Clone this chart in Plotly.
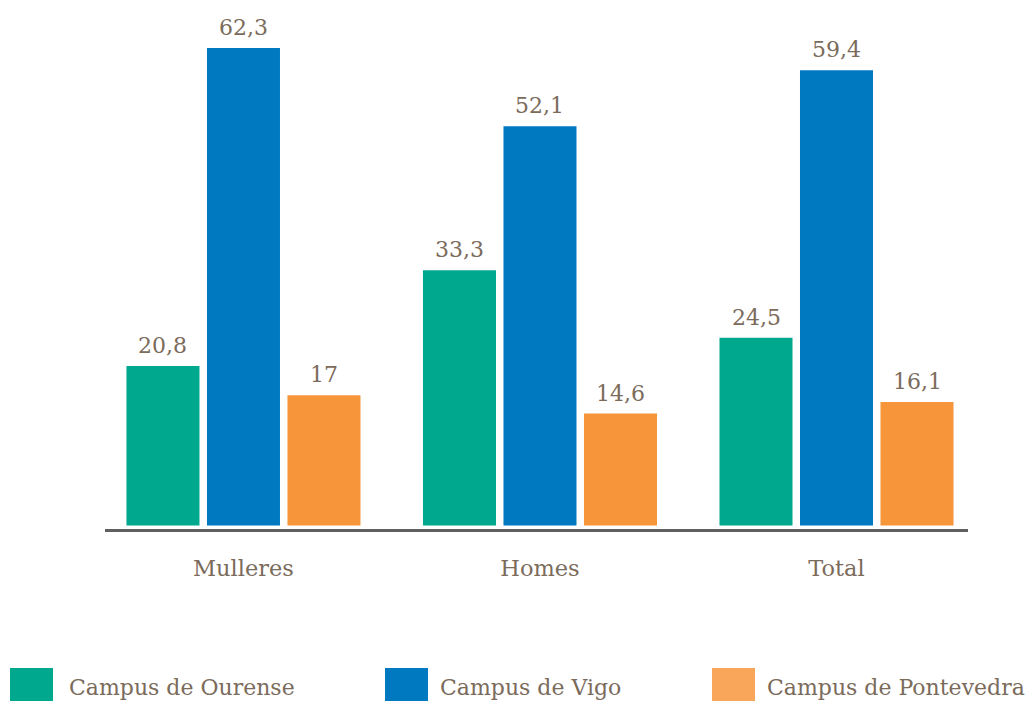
import plotly.graph_objects as go

fnt = "DejaVu Serif"
txt_color = "#7b6b5b"

categories = ["Mulleres", "Homes", "Total"]
series_names = ["Campus de Ourense", "Campus de Vigo", "Campus de Pontevedra"]
ourense = [20.8, 33.3, 24.5]
vigo = [62.3, 52.1, 59.4]
pontevedra = [17, 14.6, 16.1]
bar_colors = ["#00a88d", "#0079c1", "#f7953a"]
legend_colors = ["#00a88d", "#0079c1", "#f9a65b"]

# page has an 8px body margin, so positions are shifted by OFF
OFF = 8
W, H = 1035, 701
L, R, T, B = 105 - OFF, 968 - OFF, 20 - OFF, 529 - OFF
slot_px = 80.5  # distance between bars in a group


def px_x(p):
    return (p - OFF - L) / (R - L)


def px_y(p):
    return (B - (p - OFF)) / (B - T)


fig = go.Figure()
annotations = []
all_series = [ourense, vigo, pontevedra]
for i, (name, vals, col) in enumerate(zip(series_names, all_series, bar_colors)):
    fig.add_trace(go.Bar(x=categories, y=vals, name=name,
                         marker=dict(color=col, line=dict(width=0))))
    # value labels above bars
    for cat, v in zip(categories, vals):
        annotations.append(dict(x=cat, y=v, xref="x", yref="y", text=f"{v:g}".replace(".", ","),
                                showarrow=False, xanchor="center", yanchor="bottom",
                                xshift=(i - 1) * slot_px, yshift=6,
                                font=dict(family=fnt, size=22, color=txt_color)))

fig.update_xaxes(
    range=[-0.467, 2.4435],
    showline=True, linecolor="#606060", linewidth=3,
    showgrid=False, ticks="",
    tickfont=dict(family=fnt, size=22.5, color=txt_color),
    ticklabelstandoff=17)

fig.update_yaxes(range=[-0.457, 65.95], visible=False, showgrid=False, zeroline=False)

# legend drawn manually with large square swatches
swatch_x = [10, 385, 712]
label_x = [67, 438, 765]
shapes = []
for sx, lx, name, col in zip(swatch_x, label_x, series_names, legend_colors):
    shapes.append(dict(type="rect", xref="paper", yref="paper",
                       x0=px_x(sx), x1=px_x(sx + 43), y0=px_y(701), y1=px_y(668),
                       fillcolor=col, line=dict(width=0)))
    annotations.append(dict(xref="paper", yref="paper", x=px_x(lx), y=px_y(687),
                            xanchor="left", yanchor="middle", showarrow=False, text=name,
                            font=dict(family=fnt, size=22, color=txt_color)))

fig.update_layout(
    barmode="group", bargap=0.1855, bargroupgap=0.093,
    width=W, height=H,
    margin=dict(l=L, r=W - R, t=T, b=H - B, pad=0),
    plot_bgcolor="white", paper_bgcolor="white",
    showlegend=False,
    separators=",.",
    shapes=shapes, annotations=annotations)

fig.write_html("out.html", config={"displayModeBar": False})
